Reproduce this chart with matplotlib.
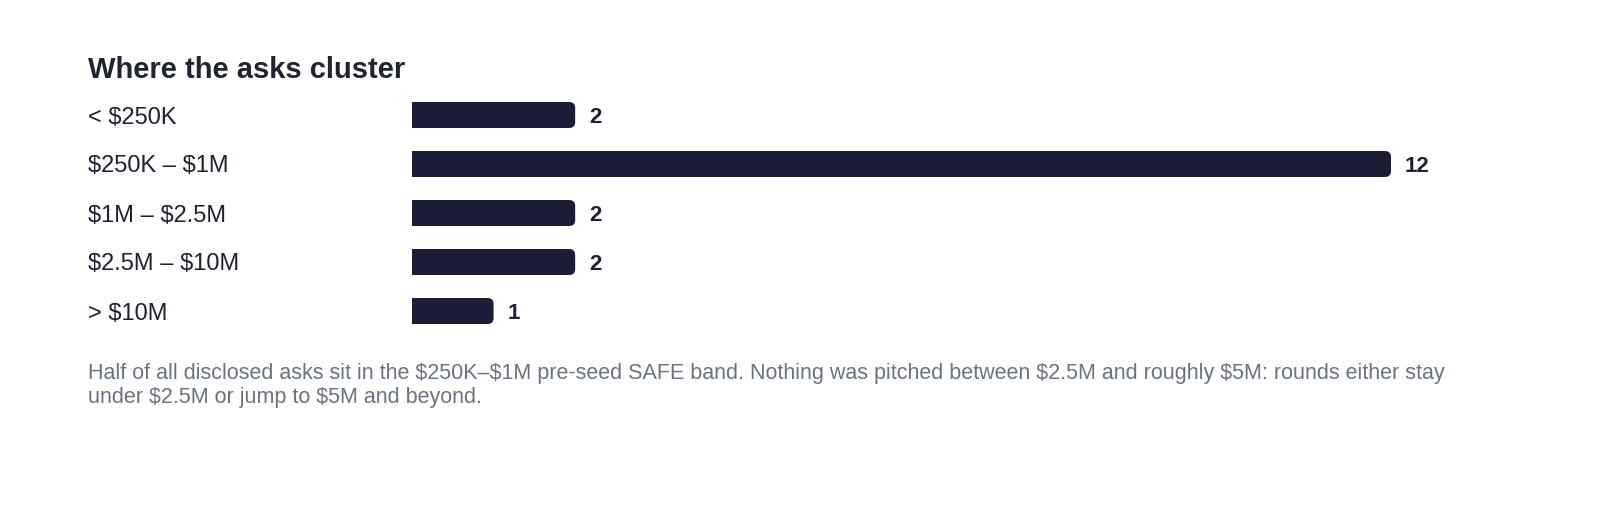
import matplotlib.pyplot as plt
from matplotlib.patches import FancyBboxPatch
import matplotlib.transforms as mtransforms

plt.rcParams['font.family'] = ['Liberation Sans', 'DejaVu Sans']
plt.rcParams['text.parse_math'] = False

categories = ["< $250K", "$250K – $1M", "$1M – $2.5M", "$2.5M – $10M", "> $10M"]
counts = [2, 12, 2, 2, 1]
title = "Where the asks cluster"
note_lines = [
    "Half of all disclosed asks sit in the $250K–$1M pre-seed SAFE band. "
    "Nothing was pitched between $2.5M and roughly $5M: rounds either stay",
    "under $2.5M or jump to $5M and beyond.",
]

W, H = 1600, 520
BAR = "#1b1c36"

fig = plt.figure(figsize=(W / 100, H / 100), dpi=100)
# axes placed in pixel terms: x 412 -> 1391 for 0 -> 12, rows 49 px apart
ax = fig.add_axes([412 / W, 1 - 335.5 / H, 979 / W, 245 / H])
ax.set_xlim(0, 12)
ax.set_ylim(len(categories) - 0.5, -0.5)
ax.axis("off")

bar_h = 26 / 49
r = 6 / 81.6            # corner radius in x data units
aspect = 81.6 / 49      # y-units per x-unit at same pixel length

for i, v in enumerate(counts):
    box = FancyBboxPatch((0, i - bar_h / 2), v, bar_h,
                         boxstyle=f"round,pad=0,rounding_size={r}",
                         mutation_aspect=aspect, fc=BAR, ec="none", lw=0)
    ax.add_patch(box)
# square off the left ends
ax.barh(range(len(counts)), [v / 2 for v in counts], height=bar_h, color=BAR, lw=0)

for i, v in enumerate(counts):
    ax.annotate(str(v), (v, i), xytext=(14, 0), textcoords="offset pixels",
                va="center_baseline", ha="left", fontsize=16, fontweight="bold",
                color="#1f2130", annotation_clip=False)

trans = mtransforms.blended_transform_factory(fig.transFigure, ax.transData)
for i, c in enumerate(categories):
    ax.text(88 / W, i, c, transform=trans, ha="left", va="center_baseline",
            fontsize=17, color="#1f2130")

fig.text(88 / W, 1 - 67 / H, title, ha="left", va="center_baseline",
         fontsize=21, fontweight="bold", color="#1f2430")
for k, line in enumerate(note_lines):
    fig.text(88 / W, 1 - (371 + 24 * k) / H, line, ha="left",
             va="center_baseline", fontsize=15.5, color="#6b7280")

fig.savefig("out.png", dpi=100, facecolor="white")
